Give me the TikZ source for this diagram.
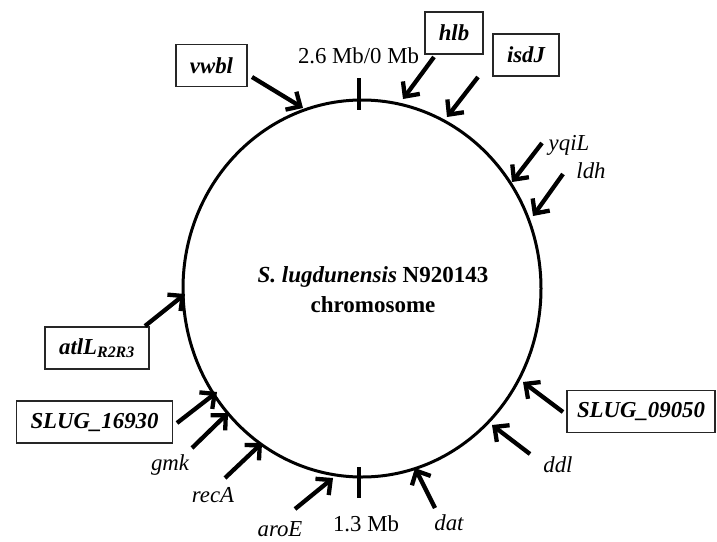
\documentclass[tikz,border=0pt]{standalone}
\usepackage{fontspec}
\setmainfont{Liberation Serif}
\usetikzlibrary{arrows.meta, shapes.geometric}

\begin{document}
\begin{tikzpicture}[
    x=1pt, y=-1pt,
    genebox/.style={rectangle, draw=black!85, line width=1.6pt,
                    minimum height=42pt, inner xsep=14pt, inner ysep=0pt,
                    font=\fontsize{22.8}{26}\selectfont\bfseries\itshape},
    gene/.style={inner sep=0pt, anchor=base,
                 font=\fontsize{22.8}{26}\selectfont\itshape},
    poslabel/.style={inner sep=0pt, anchor=base,
                 font=\fontsize{22.8}{26}\selectfont},
    arrow/.style={-{Straight Barb[length=11pt, width=21pt]}, line width=4.3pt},
    tickline/.style={line width=3.2pt}
]
    \useasboundingbox (0,0) rectangle (717,541);

    % chromosome
    \node[ellipse, draw, line width=3pt, minimum width=358pt,
          minimum height=377pt, inner sep=0pt] (chrom) at (362,288.5) {};
    \node[align=center, inner sep=0pt,
          font=\fontsize{23}{30}\selectfont\bfseries] (title) at (373,290)
        {\textit{S. lugdunensis} N920143\\chromosome};

    % position marks
    \draw[tickline] (359,78) -- (359,110);
    \draw[tickline] (359,467) -- (359,498);
    \node[poslabel] (origin) at (358.5,63) {2.6 Mb/0 Mb};
    \node[poslabel] (half) at (366,531) {1.3 Mb};

    % boxed genes
    \node[genebox] (vwbl) at (211.5,65.5) {vwbl};
    \node[genebox] (hlb) at (454,33) {hlb};
    \node[genebox] (isdJ) at (526,55) {isdJ};
    \node[genebox] (atlL) at (97,348) {atlL\textsubscript{R2R3}};
    \node[genebox] (slug1) at (94.5,422) {SLUG\_16930};
    \node[genebox, inner xsep=10pt] (slug2) at (641,411.5) {SLUG\_09050};

    % plain genes
    \node[gene] (yqiL) at (569,150) {yqiL};
    \node[gene] (ldh) at (591,178) {ldh};
    \node[gene] (ddl) at (558,472) {ddl};
    \node[gene] (dat) at (449,530) {dat};
    \node[gene] (aroE) at (280,536) {aroE};
    \node[gene] (recA) at (213,502) {recA};
    \node[gene] (gmk) at (170,470) {gmk};

    % arrow ends
    \coordinate (a-vwbl) at (252,77);  \coordinate (p-vwbl) at (303,108);
    \coordinate (a-hlb) at (434,57);   \coordinate (p-hlb) at (403,99);
    \coordinate (a-isdJ) at (478,77);  \coordinate (p-isdJ) at (447,117);
    \coordinate (a-yqiL) at (542,143); \coordinate (p-yqiL) at (512,182);
    \coordinate (a-ldh) at (563,174);  \coordinate (p-ldh) at (533,216);
    \coordinate (a-slug2) at (563,412); \coordinate (p-slug2) at (523,382);
    \coordinate (a-ddl) at (530,454);  \coordinate (p-ddl) at (492,425);
    \coordinate (a-dat) at (435,508);  \coordinate (p-dat) at (415,468);
    \coordinate (a-aroE) at (295,509); \coordinate (p-aroE) at (333,478);
    \coordinate (a-recA) at (225,478); \coordinate (p-recA) at (262,443);
    \coordinate (a-gmk) at (192,448);  \coordinate (p-gmk) at (228,413);
    \coordinate (a-slug1) at (177,423); \coordinate (p-slug1) at (217,392);
    \coordinate (a-atlL) at (145,326); \coordinate (p-atlL) at (185,294);

    \draw[arrow] (a-vwbl) -- (p-vwbl);
    \draw[arrow] (a-hlb) -- (p-hlb);
    \draw[arrow] (a-isdJ) -- (p-isdJ);
    \draw[arrow] (a-yqiL) -- (p-yqiL);
    \draw[arrow] (a-ldh) -- (p-ldh);
    \draw[arrow] (a-slug2) -- (p-slug2);
    \draw[arrow] (a-ddl) -- (p-ddl);
    \draw[arrow] (a-dat) -- (p-dat);
    \draw[arrow] (a-aroE) -- (p-aroE);
    \draw[arrow] (a-recA) -- (p-recA);
    \draw[arrow] (a-gmk) -- (p-gmk);
    \draw[arrow] (a-slug1) -- (p-slug1);
    \draw[arrow] (a-atlL) -- (p-atlL);
\end{tikzpicture}
\end{document}
